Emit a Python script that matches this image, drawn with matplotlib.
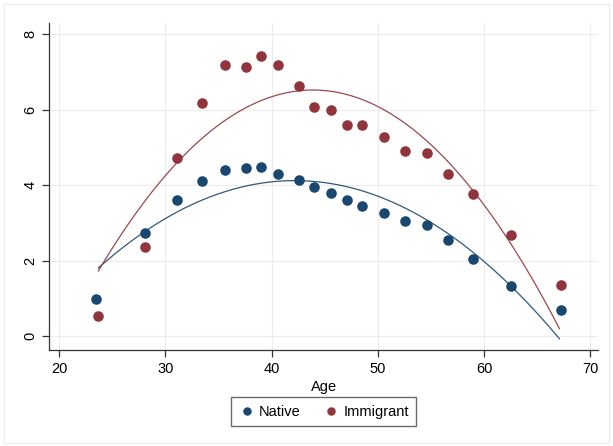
import numpy as np
from matplotlib import pyplot as plt

plt.rcParams['font.family'] = ['Liberation Sans', 'DejaVu Sans']

# binned means by age
age_native = [23.5, 28.1, 31.1, 33.5, 35.6, 37.6, 39.0, 40.6, 42.6, 44.0,
              45.6, 47.1, 48.5, 50.6, 52.6, 54.6, 56.6, 59.0, 62.5, 67.2]
val_native = [0.99, 2.73, 3.61, 4.12, 4.41, 4.45, 4.49, 4.29, 4.13, 3.95,
              3.79, 3.60, 3.46, 3.27, 3.04, 2.95, 2.56, 2.04, 1.32, 0.68]
age_immig = [23.7, 28.1, 31.1, 33.5, 35.6, 37.6, 39.0, 40.6, 42.6, 44.0,
             45.6, 47.1, 48.5, 50.6, 52.6, 54.6, 56.6, 59.0, 62.5, 67.2]
val_immig = [0.54, 2.37, 4.71, 6.18, 7.19, 7.12, 7.41, 7.19, 6.63, 6.08,
             5.98, 5.60, 5.60, 5.27, 4.91, 4.85, 4.30, 3.76, 2.67, 1.36]

# quadratic fit lines (vertex age, vertex value, curvature)
fit_native = (42.2, 4.12, 0.00676)
fit_immig = (43.9, 6.52, 0.01175)
fit_range = (23.7, 67.1)

navy = '#1a476f'
maroon = '#90353b'

fig = plt.figure(figsize=(6.13, 4.46), dpi=100)
ax = fig.add_axes([0.080, 0.215, 0.896, 0.733])

xs = np.linspace(fit_range[0], fit_range[1], 200)
for (v, h, a), c in [(fit_native, navy), (fit_immig, maroon)]:
    ax.plot(xs, h - a * (xs - v) ** 2, color=c, lw=0.9, alpha=0.9, zorder=2)

ax.plot(age_native, val_native, 'o', color=navy, ms=7.6, mec='none', label='Native', zorder=3)
ax.plot(age_immig, val_immig, 'o', color=maroon, ms=7.6, mec='none', label='Immigrant', zorder=3)

ax.set_xlim(19.06, 70.75)
ax.set_ylim(-0.37, 8.29)
ax.set_xticks(range(20, 71, 10))
ax.set_yticks(range(0, 9, 2))
ax.grid(True, color='#ececec', lw=0.8)
ax.set_axisbelow(True)
for s in ['top', 'right']:
    ax.spines[s].set_visible(False)
for s in ['left', 'bottom']:
    ax.spines[s].set_color('#333333')
    ax.spines[s].set_linewidth(0.9)
ax.tick_params(direction='out', length=5, width=0.9, color='#333333', labelsize=10.5)
plt.setp(ax.get_yticklabels(), rotation=90, va='center')
ax.set_xlabel('Age', fontsize=10.5, labelpad=3)

fig.legend(loc='center', bbox_to_anchor=(0.528, 0.077), ncol=2, fontsize=10.5,
           frameon=True, fancybox=False, edgecolor='#444444', handletextpad=0.2,
           columnspacing=1.5, borderpad=0.5, handlelength=1.2, markerscale=0.8)

fig.patches.append(plt.Rectangle((0.006, 0.006), 0.988, 0.986, transform=fig.transFigure,
                                 fill=False, edgecolor='#eeeeee', lw=1))

fig.savefig('out.png', dpi=100)
